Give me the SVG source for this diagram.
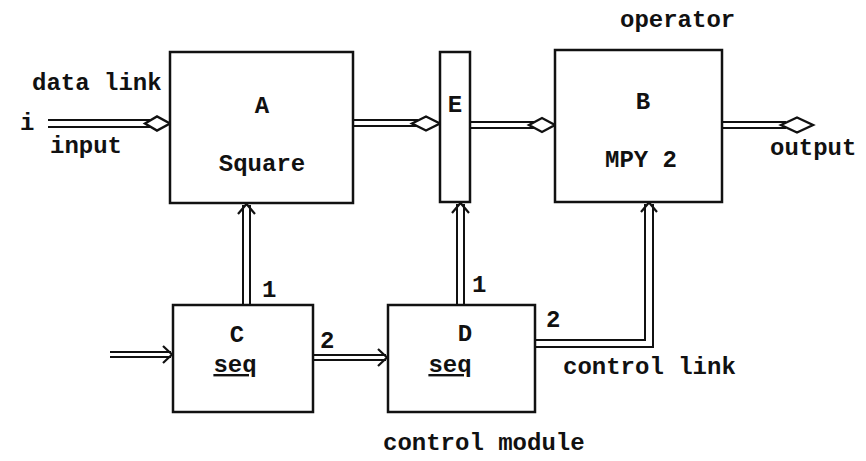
<svg xmlns="http://www.w3.org/2000/svg" width="866" height="461" viewBox="0 0 866 461">
<style>
.box{fill:#fff;stroke:#111;stroke-width:2.5}
.ln{fill:none;stroke:#111;stroke-width:2}
.dia{fill:#fff;stroke:#111;stroke-width:2.4}
.ah{fill:none;stroke:#111;stroke-width:2.2;stroke-linejoin:miter}
text{font-family:"Liberation Mono","DejaVu Sans Mono",monospace;font-size:24px;fill:#111;font-weight:bold}
.c{text-anchor:middle}
</style>
<rect width="866" height="461" fill="#fff"/>
<g id="connectors">
  <!-- input data link -->
  <path class="ln" d="M48 120H150M48 127H150"/>
  <polygon class="dia" points="145,123.5 157,116.5 170,123.5 157,130.5"/>
  <!-- A to E -->
  <path class="ln" d="M353 120H418M353 126H418"/>
  <polygon class="dia" points="412,123.5 426,116.5 440,123.5 426,130.5"/>
  <!-- E to B -->
  <path class="ln" d="M470 122H534M470 128H534"/>
  <polygon class="dia" points="529,125 542,118 555,125 542,132"/>
  <!-- B output -->
  <path class="ln" d="M722 122H786M722 128H786"/>
  <polygon class="dia" points="781,125 797,117.5 813,125 797,132.5"/>
  <!-- C to A -->
  <path class="ln" d="M243 305V205M250 305V205"/>
  <polyline class="ah" points="238,214 246.5,204 255,214"/>
  <!-- into C -->
  <path class="ln" d="M110 352H171M110 357H171"/>
  <polyline class="ah" points="163,346 172,354.5 163,363"/>
  <!-- C to D -->
  <path class="ln" d="M313 355H386M313 360H386"/>
  <polyline class="ah" points="378,349 387,357.5 378,366"/>
  <!-- D to E -->
  <path class="ln" d="M457 305V204M464 305V204"/>
  <polyline class="ah" points="452,213 460.5,203 469,213"/>
  <!-- D to B -->
  <path class="ln" d="M535 340H645V204M535 347H653V204"/>
  <polyline class="ah" points="641,212 649,202.5 657,212"/>
</g>
<g id="A">
  <rect class="box" x="170" y="52" width="183" height="151"/>
  <text class="c" x="262" y="113">A</text>
  <text class="c" x="262" y="171">Square</text>
</g>
<g id="E">
  <rect class="box" x="440" y="52" width="30" height="150"/>
  <text class="c" x="455" y="112">E</text>
</g>
<g id="B">
  <rect class="box" x="555" y="50" width="167" height="152"/>
  <text class="c" x="643" y="109">B</text>
  <text class="c" x="641" y="167">MPY 2</text>
</g>
<g id="C">
  <rect class="box" x="173" y="305" width="140" height="107"/>
  <text class="c" x="237" y="342">C</text>
  <text class="c" x="235" y="372" text-decoration="underline">seq</text>
</g>
<g id="D">
  <rect class="box" x="388" y="305" width="147" height="107"/>
  <text class="c" x="465" y="341">D</text>
  <text class="c" x="450" y="372" text-decoration="underline">seq</text>
</g>
<g id="labels">
  <text x="20" y="130">i</text>
  <text x="32" y="90">data link</text>
  <text x="50" y="153">input</text>
  <text x="620" y="27">operator</text>
  <text x="770" y="155">output</text>
  <text x="262" y="297">1</text>
  <text x="320" y="348">2</text>
  <text x="472" y="292">1</text>
  <text x="546" y="327">2</text>
  <text x="563" y="374">control link</text>
  <text x="383" y="450">control module</text>
</g>
</svg>
